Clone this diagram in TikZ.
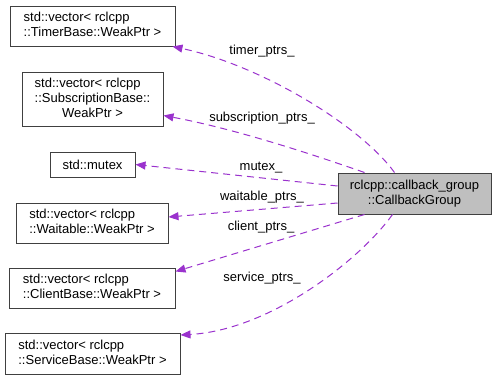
\documentclass[tikz,border=0pt]{standalone}
\usepackage{fontspec}
\setmainfont{Liberation Sans}
\usetikzlibrary{calc,arrows.meta}
\definecolor{edgepurple}{HTML}{9A32CD}
\definecolor{classgray}{HTML}{BFBFBF}
\begin{document}
\begin{tikzpicture}[x=1pt,y=-1pt,
  font=\fontsize{13}{15}\selectfont,
  member/.style={draw=black!75, line width=1pt, fill=white, inner sep=0pt},
  klass/.style={member, fill=classgray, align=center},
  usage/.style={draw=edgepurple, line width=1pt, dash pattern=on 7pt off 5pt,
    -{Triangle[length=10pt,width=8pt,fill=edgepurple]}},
  lbl/.style={inner sep=0pt, text height=9.5pt, text depth=3pt}]
\useasboundingbox (0,0) rectangle (496,380);

% member type boxes (left column)
\node[member, minimum width=165pt, minimum height=40pt] (timer) at (92.5,26)
  {\begin{tabular}{@{}l@{}}std::vector< rclcpp\\\multicolumn{1}{@{}c@{}}{::TimerBase::WeakPtr >}\end{tabular}};
\node[member, minimum width=141pt, minimum height=54pt] (sub) at (92.5,99)
  {\begin{tabular}{@{}l@{}}std::vector< rclcpp\\::SubscriptionBase::\\\multicolumn{1}{@{}c@{}}{WeakPtr >}\end{tabular}};
\node[member, minimum width=85pt, minimum height=25pt] (mutex) at (92.5,164.5)
  {std::mutex};
\node[member, minimum width=152pt, minimum height=40pt] (wait) at (92,223)
  {\begin{tabular}{@{}l@{}}std::vector< rclcpp\\\multicolumn{1}{@{}c@{}}{::Waitable::WeakPtr >}\end{tabular}};
\node[member, minimum width=166pt, minimum height=40pt] (client) at (92,288)
  {\begin{tabular}{@{}l@{}}std::vector< rclcpp\\\multicolumn{1}{@{}c@{}}{::ClientBase::WeakPtr >}\end{tabular}};
\node[member, minimum width=175pt, minimum height=41pt] (service) at (92.5,354)
  {\begin{tabular}{@{}l@{}}std::vector< rclcpp\\\multicolumn{1}{@{}c@{}}{::ServiceBase::WeakPtr >}\end{tabular}};

% the class itself
\node[klass, minimum width=153pt, minimum height=41pt] (cg) at (414.5,193.5)
  {rclcpp::callback\_group\\::CallbackGroup};

% member relations
\draw[usage] ($(cg.north west)+(57,0)$) .. controls (360,125) and (260,65) .. ($(timer.south east)+(-3,0)$);
\draw[usage] ($(cg.north west)+(27,0)$) .. controls (300,150) and (230,128) .. ($(sub.south east)+(0,-11)$);
\draw[usage] ($(cg.west)+(0,-7.5)$) -- (mutex.east);
\draw[usage] ($(cg.west)+(0,9.5)$) -- ($(wait.east)+(0,-6)$);
\draw[usage] ($(cg.south west)+(27,0)$) -- ($(client.north east)+(0,4)$);
\draw[usage] ($(cg.south west)+(55,0)$) .. controls (360,260) and (270,330) .. ($(service.north east)+(0,2)$);

% member names
\node[lbl] (ltimer) at (262,51) {timer\_ptrs\_};
\node[lbl] (lsub) at (262,118) {subscription\_ptrs\_};
\node[lbl] (lmutex) at (261,167) {mutex\_};
\node[lbl] (lwait) at (262,197) {waitable\_ptrs\_};
\node[lbl] (lclient) at (261,227) {client\_ptrs\_};
\node[lbl] (lservice) at (262,278) {service\_ptrs\_};
\end{tikzpicture}
\end{document}
